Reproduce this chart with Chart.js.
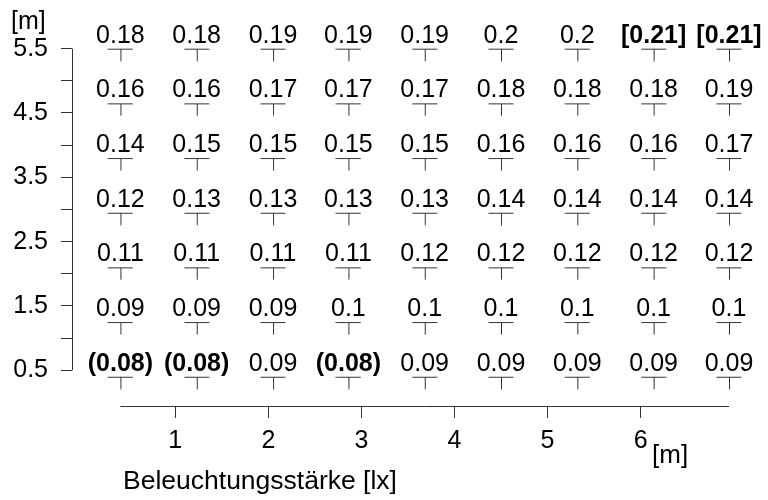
<!DOCTYPE html>
<html>
<head>
<meta charset="utf-8">
<script src="https://cdn.jsdelivr.net/npm/chart.js@4.4.1/dist/chart.umd.min.js"></script>
<style>
  body { margin: 0; background: #fff; }
  #wrap { width: 768px; height: 500px; }
</style>
</head>
<body>
<div id="wrap"><canvas id="chart"></canvas></div>
<script>
// --- Data ---
const colX = [0.41, 1.23, 2.05, 2.86, 3.68, 4.5, 5.32, 6.14, 6.95];
const rowY = [5.5, 4.65, 3.8, 2.95, 2.1, 1.25, 0.4];

const row1 = [0.18, 0.18, 0.19, 0.19, 0.19, 0.2, 0.2, 0.21, 0.21];
const row2 = [0.16, 0.16, 0.17, 0.17, 0.17, 0.18, 0.18, 0.18, 0.19];
const row3 = [0.14, 0.15, 0.15, 0.15, 0.15, 0.16, 0.16, 0.16, 0.17];
const row4 = [0.12, 0.13, 0.13, 0.13, 0.13, 0.14, 0.14, 0.14, 0.14];
const row5 = [0.11, 0.11, 0.11, 0.11, 0.12, 0.12, 0.12, 0.12, 0.12];
const row6 = [0.09, 0.09, 0.09, 0.1, 0.1, 0.1, 0.1, 0.1, 0.1];
const row7 = [0.08, 0.08, 0.09, 0.08, 0.09, 0.09, 0.09, 0.09, 0.09];

const xTicks = [1, 2, 3, 4, 5, 6];
const yTicks = [0.5, 1, 1.5, 2, 2.5, 3, 3.5, 4, 4.5, 5, 5.5];

const lowMark = 0.08;   // shown as (x), bold
const highMark = 0.21;  // shown as [x], bold

const FONT = '"Liberation Sans", Arial, sans-serif';
Chart.defaults.font.family = FONT;
Chart.defaults.color = '#000';

// --- Build points ---
const rows = [row1, row2, row3, row4, row5, row6, row7];
const points = [];
rows.forEach((vals, r) => {
  vals.forEach((v, c) => points.push({ x: colX[c], y: rowY[r], v }));
});

function makeTee() {
  const c = document.createElement('canvas');
  c.width = 26; c.height = 26;
  const g = c.getContext('2d');
  g.strokeStyle = '#333';
  g.lineWidth = 1;
  g.beginPath();
  g.moveTo(0.5, 13.5); g.lineTo(25.5, 13.5);
  g.moveTo(13.5, 13.5); g.lineTo(13.5, 25.5);
  g.stroke();
  return c;
}

function labelText(v) {
  if (v <= lowMark) return { txt: '(' + v + ')', bold: true };
  if (v >= highMark) return { txt: '[' + v + ']', bold: true };
  return { txt: String(v), bold: false };
}

// --- Labels, axis lines, titles ---
const extras = {
  id: 'extras',
  afterDatasetsDraw(chart) {
    const ctx = chart.ctx;
    const xs = chart.scales.x, ys = chart.scales.y;
    const area = chart.chartArea;
    const meta = chart.getDatasetMeta(0);
    ctx.save();

    ctx.fillStyle = '#000';
    ctx.textAlign = 'center';
    ctx.textBaseline = 'alphabetic';
    meta.data.forEach((pt, i) => {
      const l = labelText(points[i].v);
      ctx.font = (l.bold ? 'bold ' : '') + '25px ' + FONT;
      ctx.fillText(l.txt, pt.x, pt.y - 6);
    });

    // axis lines
    ctx.strokeStyle = '#333';
    ctx.lineWidth = 1;
    ctx.beginPath();
    const ax = Math.round(area.left) + 0.5;
    ctx.moveTo(ax, ys.getPixelForValue(yTicks[0]));
    ctx.lineTo(ax, ys.getPixelForValue(yTicks[yTicks.length - 1]));
    const ay = Math.round(area.bottom) + 0.5;
    ctx.moveTo(xs.getPixelForValue(colX[0]), ay);
    ctx.lineTo(xs.getPixelForValue(colX[colX.length - 1]), ay);
    ctx.stroke();

    // titles
    ctx.textAlign = 'left';
    ctx.font = '25px ' + FONT;
    ctx.fillText('[m]', 11, 29);
    ctx.font = '26px ' + FONT;
    ctx.fillText('[m]', 652, 463);
    ctx.font = '26.5px ' + FONT;
    ctx.fillText('Beleuchtungsstärke [lx]', 123, 489);
    ctx.restore();
  }
};

new Chart(document.getElementById('chart'), {
  type: 'scatter',
  data: {
    datasets: [{
      data: points,
      pointStyle: makeTee(),
      pointRadius: 6,
      showLine: false,
      clip: false
    }]
  },
  options: {
    responsive: true,
    maintainAspectRatio: false,
    animation: false,
    devicePixelRatio: 1,
    layout: { padding: { top: 30, right: 20.4, left: 0, bottom: 0 } },
    plugins: { legend: { display: false }, tooltip: { enabled: false } },
    scales: {
      x: {
        type: 'linear',
        min: -0.11,
        max: 7.15,
        afterBuildTicks: s => { s.ticks = xTicks.map(v => ({ value: v })); },
        afterFit: s => { s.height = 94; },
        grid: { drawOnChartArea: false, drawTicks: true, tickLength: 12, color: '#333' },
        border: { display: false },
        ticks: { font: { size: 25 }, color: '#000', padding: 8, autoSkip: false, maxRotation: 0 }
      },
      y: {
        type: 'linear',
        min: -0.055,
        max: 5.79,
        afterBuildTicks: s => { s.ticks = yTicks.map(v => ({ value: v })); },
        afterFit: s => { s.width = 72; },
        grid: { drawOnChartArea: false, drawTicks: true, tickLength: 11, color: '#333' },
        border: { display: false },
        ticks: {
          font: { size: 25 }, color: '#000', padding: 13, autoSkip: false,
          callback: v => (Math.abs(v % 1 - 0.5) < 1e-6 ? String(v) : '')
        }
      }
    }
  },
  plugins: [extras]
});
</script>
</body>
</html>
